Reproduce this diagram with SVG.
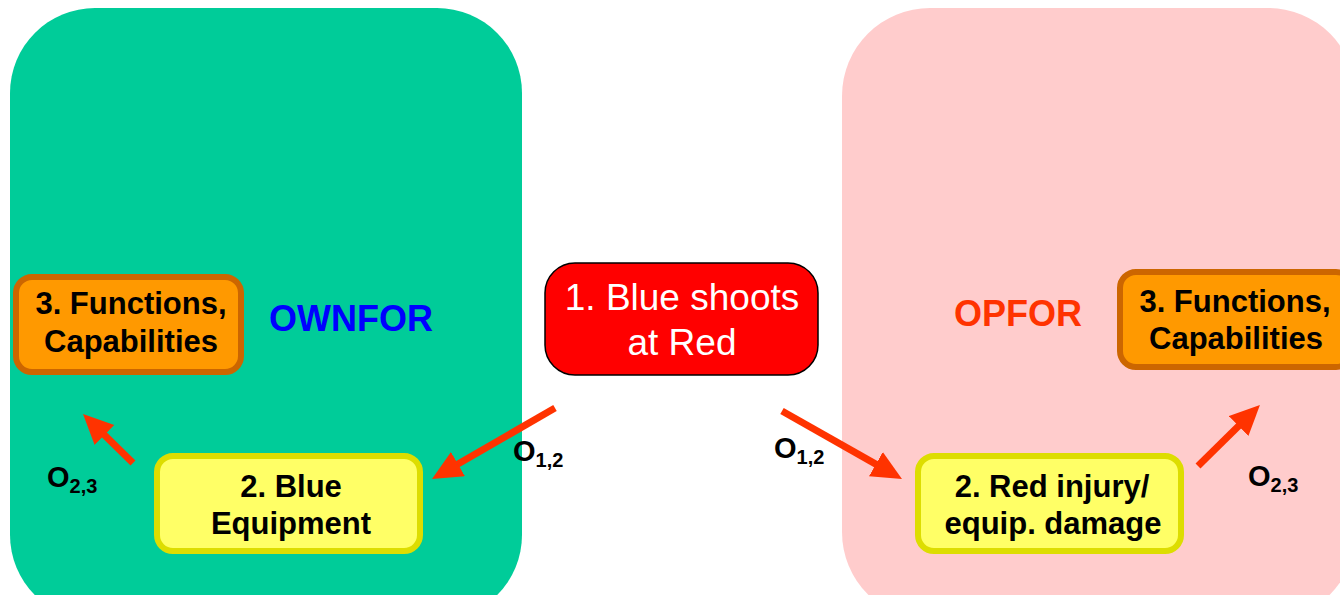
<svg xmlns="http://www.w3.org/2000/svg" width="1340" height="595" viewBox="0 0 1340 595">
  <defs>
    <style>
      .panel-own { fill: #00CC99; }
      .panel-op { fill: #FFCCCC; }
      .shot { fill: #FF0000; stroke: #000000; stroke-width: 1.5; }
      .shot-text { font-family: "Liberation Sans", Arial, sans-serif; font-size: 37px; fill: #FFFFFF; text-anchor: middle; }
      .func { fill: #FF9900; stroke: #CC6600; stroke-width: 6; }
      .equip { fill: #FFFF66; stroke: #DDDD00; stroke-width: 6; }
      .box-text { font-family: "Liberation Sans", Arial, sans-serif; font-size: 31px; font-weight: bold; fill: #000000; text-anchor: middle; }
      .side { font-family: "Liberation Sans", Arial, sans-serif; font-size: 36px; font-weight: bold; text-anchor: middle; }
      .conn { stroke: #FF3300; stroke-width: 7; fill: none; marker-end: url(#head); }
      .olabel { font-family: "Liberation Sans", Arial, sans-serif; font-size: 29px; font-weight: bold; fill: #000000; }
      .sub { font-size: 20px; }
    </style>
    <marker id="head" markerUnits="userSpaceOnUse" markerWidth="32" markerHeight="30" viewBox="0 0 32 30" refX="10" refY="14" orient="auto">
      <path d="M0,0 L30,14 L0,28 Z" fill="#FF3300"/>
    </marker>
  </defs>

  <!-- side panels -->
  <g id="ownfor-panel">
    <rect class="panel-own" x="10" y="8" width="512" height="612" rx="85" ry="85"/>
    <text class="side" x="351" y="331" fill="#0000FF">OWNFOR</text>
  </g>
  <g id="opfor-panel">
    <rect class="panel-op" x="842" y="8" width="514" height="612" rx="88" ry="88"/>
    <text class="side" x="1018" y="326" fill="#FF3300">OPFOR</text>
  </g>

  <!-- event -->
  <g id="blue-shoots">
    <rect class="shot" x="545" y="263" width="273" height="112" rx="30" ry="30"/>
    <text class="shot-text" x="682" y="310">1. Blue shoots</text>
    <text class="shot-text" x="682" y="355">at Red</text>
  </g>

  <!-- own side -->
  <g id="blue-functions">
    <rect class="func" x="16" y="277" width="225" height="95" rx="16" ry="16"/>
    <text class="box-text" x="131" y="314">3. Functions,</text>
    <text class="box-text" x="131" y="352">Capabilities</text>
  </g>
  <g id="blue-equipment">
    <rect class="equip" x="157" y="456" width="263" height="95" rx="16" ry="16"/>
    <text class="box-text" x="291" y="497">2. Blue</text>
    <text class="box-text" x="291" y="534">Equipment</text>
  </g>

  <!-- opposing side -->
  <g id="red-functions">
    <rect class="func" x="1120" y="272" width="232" height="95" rx="16" ry="16"/>
    <text class="box-text" x="1235" y="312">3. Functions,</text>
    <text class="box-text" x="1236" y="349">Capabilities</text>
  </g>
  <g id="red-damage">
    <rect class="equip" x="918" y="456" width="263" height="95" rx="16" ry="16"/>
    <text class="box-text" x="1052" y="497">2. Red injury/</text>
    <text class="box-text" x="1053" y="534">equip. damage</text>
  </g>

  <!-- connectors -->
  <g id="connectors">
    <line class="conn" x1="555" y1="408" x2="449.3" y2="469"/>
    <line class="conn" x1="782" y1="411" x2="884.6" y2="469.1"/>
    <line class="conn" x1="133" y1="463" x2="97.3" y2="428"/>
    <line class="conn" x1="1198" y1="466" x2="1245.7" y2="419"/>
    <text class="olabel" x="513" y="461">O<tspan class="sub" dy="6">1,2</tspan></text>
    <text class="olabel" x="774" y="458">O<tspan class="sub" dy="6">1,2</tspan></text>
    <text class="olabel" x="47" y="487">O<tspan class="sub" dy="6">2,3</tspan></text>
    <text class="olabel" x="1248" y="486">O<tspan class="sub" dy="6">2,3</tspan></text>
  </g>
</svg>
